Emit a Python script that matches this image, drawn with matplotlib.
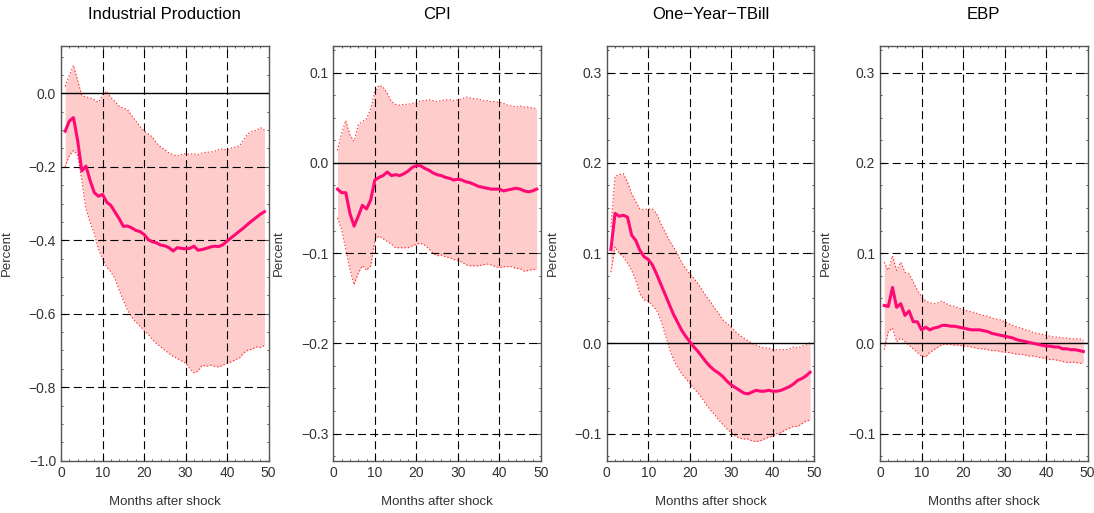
import numpy as np
import matplotlib
matplotlib.use("Agg")
import matplotlib.pyplot as plt
from matplotlib.ticker import MultipleLocator, FuncFormatter

plt.rcParams['font.family'] = ['Liberation Sans', 'DejaVu Sans']
plt.rcParams['lines.scale_dashes'] = False

months = list(range(1, 50))

# Industrial Production
ip_mid = [-0.103, -0.075, -0.066, -0.128, -0.211, -0.198, -0.237, -0.27, -0.28, -0.275,
          -0.296, -0.305, -0.323, -0.341, -0.362, -0.361, -0.366, -0.373, -0.376, -0.384,
          -0.398, -0.404, -0.407, -0.413, -0.415, -0.42, -0.429, -0.42, -0.422, -0.423,
          -0.422, -0.416, -0.427, -0.425, -0.422, -0.418, -0.416, -0.417, -0.412, -0.402,
          -0.393, -0.384, -0.375, -0.366, -0.356, -0.347, -0.338, -0.329, -0.322]
ip_hi = [0.019, 0.049, 0.076, 0.035, -0.005, -0.01, -0.012, -0.017, -0.024, -0.005,
         0.006, -0.012, -0.022, -0.035, -0.04, -0.044, -0.06, -0.075, -0.09, -0.103,
         -0.11, -0.119, -0.135, -0.146, -0.153, -0.162, -0.167, -0.171, -0.166, -0.164,
         -0.166, -0.164, -0.167, -0.162, -0.16, -0.16, -0.157, -0.153, -0.151, -0.155,
         -0.149, -0.146, -0.143, -0.126, -0.11, -0.103, -0.101, -0.093, -0.099]
ip_lo = [-0.2, -0.169, -0.155, -0.169, -0.237, -0.314, -0.35, -0.382, -0.423, -0.45,
         -0.473, -0.486, -0.504, -0.536, -0.563, -0.59, -0.609, -0.622, -0.634, -0.645,
         -0.656, -0.67, -0.681, -0.69, -0.699, -0.708, -0.716, -0.722, -0.728, -0.734,
         -0.749, -0.761, -0.756, -0.74, -0.743, -0.74, -0.743, -0.745, -0.74, -0.734,
         -0.731, -0.725, -0.72, -0.707, -0.699, -0.697, -0.69, -0.692, -0.686]

# CPI
cpi_mid = [-0.029, -0.033, -0.033, -0.056, -0.07, -0.059, -0.047, -0.051, -0.041, -0.019,
           -0.016, -0.014, -0.01, -0.014, -0.013, -0.014, -0.012, -0.009, -0.005, -0.003,
           -0.003, -0.006, -0.008, -0.011, -0.013, -0.014, -0.016, -0.017, -0.019, -0.018,
           -0.019, -0.021, -0.022, -0.024, -0.026, -0.027, -0.028, -0.029, -0.029, -0.029,
           -0.031, -0.03, -0.029, -0.028, -0.029, -0.031, -0.032, -0.031, -0.029]
cpi_hi = [0.014, 0.033, 0.047, 0.031, 0.024, 0.042, 0.046, 0.049, 0.06, 0.079,
          0.086, 0.084, 0.077, 0.068, 0.065, 0.064, 0.065, 0.065, 0.066, 0.067,
          0.069, 0.069, 0.07, 0.069, 0.068, 0.069, 0.07, 0.07, 0.069, 0.07,
          0.071, 0.073, 0.072, 0.071, 0.071, 0.069, 0.069, 0.068, 0.068, 0.067,
          0.066, 0.064, 0.063, 0.062, 0.063, 0.062, 0.062, 0.061, 0.06]
cpi_lo = [-0.061, -0.074, -0.096, -0.118, -0.135, -0.122, -0.114, -0.119, -0.114, -0.085,
          -0.081, -0.084, -0.087, -0.09, -0.094, -0.094, -0.094, -0.094, -0.092, -0.09,
          -0.089, -0.091, -0.095, -0.1, -0.103, -0.102, -0.104, -0.105, -0.107, -0.108,
          -0.11, -0.113, -0.114, -0.114, -0.114, -0.113, -0.112, -0.113, -0.115, -0.116,
          -0.115, -0.115, -0.115, -0.117, -0.117, -0.12, -0.119, -0.118, -0.118]

# One-Year-TBill
tb_mid = [0.104, 0.144, 0.141, 0.142, 0.14, 0.12, 0.114, 0.103, 0.096, 0.093,
          0.087, 0.077, 0.066, 0.055, 0.044, 0.033, 0.024, 0.015, 0.008, 0.002,
          -0.004, -0.009, -0.015, -0.021, -0.026, -0.03, -0.033, -0.037, -0.042, -0.046,
          -0.049, -0.052, -0.055, -0.056, -0.054, -0.052, -0.053, -0.053, -0.052, -0.053,
          -0.053, -0.052, -0.05, -0.048, -0.045, -0.041, -0.039, -0.036, -0.032]
tb_hi = [0.129, 0.185, 0.187, 0.188, 0.179, 0.166, 0.157, 0.149, 0.148, 0.149,
         0.149, 0.144, 0.133, 0.124, 0.115, 0.107, 0.1, 0.09, 0.083, 0.077,
         0.072, 0.066, 0.059, 0.052, 0.046, 0.039, 0.033, 0.026, 0.022, 0.018,
         0.013, 0.009, 0.006, 0.003, 0.0, -0.002, -0.004, -0.005, -0.005, -0.007,
         -0.007, -0.007, -0.007, -0.006, -0.004, -0.005, -0.003, -0.002, 0.001]
tb_lo = [0.079, 0.107, 0.1, 0.096, 0.089, 0.081, 0.07, 0.055, 0.048, 0.047,
         0.042, 0.037, 0.026, 0.011, -0.004, -0.017, -0.026, -0.033, -0.039, -0.044,
         -0.05, -0.055, -0.061, -0.068, -0.074, -0.079, -0.085, -0.09, -0.095, -0.099,
         -0.103, -0.105, -0.106, -0.106, -0.108, -0.109, -0.108, -0.106, -0.104, -0.103,
         -0.1, -0.099, -0.096, -0.094, -0.092, -0.092, -0.089, -0.086, -0.085]

# EBP
ebp_mid = [0.042, 0.041, 0.062, 0.04, 0.044, 0.031, 0.036, 0.024, 0.024, 0.015,
           0.018, 0.015, 0.017, 0.018, 0.02, 0.02, 0.019, 0.019, 0.018, 0.017,
           0.016, 0.015, 0.015, 0.015, 0.014, 0.013, 0.011, 0.01, 0.009, 0.008,
           0.007, 0.006, 0.004, 0.003, 0.002, 0.001, 0.0, -0.001, -0.002, -0.003,
           -0.003, -0.004, -0.004, -0.006, -0.006, -0.007, -0.007, -0.008, -0.009]
ebp_hi = [0.09, 0.081, 0.097, 0.081, 0.09, 0.079, 0.077, 0.068, 0.059, 0.052,
          0.047, 0.045, 0.044, 0.045, 0.047, 0.044, 0.042, 0.041, 0.039, 0.038,
          0.036, 0.035, 0.034, 0.032, 0.031, 0.03, 0.028, 0.027, 0.026, 0.024,
          0.022, 0.02, 0.018, 0.017, 0.015, 0.014, 0.012, 0.011, 0.01, 0.009,
          0.008, 0.007, 0.007, 0.006, 0.006, 0.005, 0.005, 0.005, 0.004]
ebp_lo = [-0.007, 0.013, 0.017, 0.002, 0.006, 0.002, -0.002, -0.006, -0.01, -0.014,
          -0.015, -0.01, -0.007, -0.004, -0.001, -0.001, -0.001, -0.002, -0.002, -0.003,
          -0.003, -0.004, -0.005, -0.006, -0.006, -0.007, -0.008, -0.008, -0.009, -0.01,
          -0.01, -0.011, -0.012, -0.012, -0.013, -0.014, -0.014, -0.015, -0.016, -0.017,
          -0.018, -0.018, -0.019, -0.02, -0.021, -0.021, -0.021, -0.022, -0.022]

titles = ['Industrial Production', 'CPI', 'One\u2212Year\u2212TBill', 'EBP']
mids = [ip_mid, cpi_mid, tb_mid, ebp_mid]
his = [ip_hi, cpi_hi, tb_hi, ebp_hi]
los = [ip_lo, cpi_lo, tb_lo, ebp_lo]
ylims = [(-1.0, 0.13), (-0.33, 0.13), (-0.13, 0.33), (-0.13, 0.33)]
ysteps = [0.2, 0.1, 0.1, 0.1]
lefts = [0.0558, 0.3047, 0.5546, 0.8044]

line_col = '#ff0a74'
fill_col = '#ffcccc'
edge_col = '#ff3030'
dash = (5.8, 3.0)

def fmt(v, pos):
    return ('%.1f' % v).replace('-', '\u2212')

fig = plt.figure(figsize=(10.94, 5.13), dpi=100)

for i in range(4):
    ax = fig.add_axes([lefts[i], 0.102, 0.1897, 0.809])
    ax.fill_between(months, los[i], his[i], color=fill_col, lw=0, zorder=1)
    ax.plot(months, his[i], color=edge_col, lw=0.8, ls=(0, (1, 1.5)), zorder=2)
    ax.plot(months, los[i], color=edge_col, lw=0.8, ls=(0, (1, 1.5)), zorder=2)

    ax.set_xlim(0, 50)
    ax.set_ylim(*ylims[i])
    ax.xaxis.set_major_locator(MultipleLocator(10))
    ax.xaxis.set_minor_locator(MultipleLocator(2))
    ax.yaxis.set_major_locator(MultipleLocator(ysteps[i]))
    ax.yaxis.set_minor_locator(MultipleLocator(ysteps[i] / 4))
    ax.yaxis.set_major_formatter(FuncFormatter(fmt))

    # dashed grid at major ticks, solid at zero
    for xv in [10, 20, 30, 40]:
        ax.axvline(xv, color='black', lw=0.8, dashes=dash, zorder=3)
    yt = np.arange(-1.0, 0.31, ysteps[i])
    for yv in yt:
        yv = round(yv, 2)
        if yv <= ylims[i][0] + 1e-9 or yv >= ylims[i][1]:
            continue
        if abs(yv) < 1e-9:
            ax.axhline(0, color='black', lw=1.0, zorder=3)
        else:
            ax.axhline(yv, color='black', lw=0.8, dashes=dash, zorder=3)

    ax.plot(months, mids[i], color=line_col, lw=2.2, zorder=4)

    ax.tick_params(which='both', direction='in', top=True, right=True,
                   colors='#555555', labelcolor='#333333', labelsize=10)
    ax.tick_params(which='major', length=3.6, width=0.8)
    ax.tick_params(which='minor', length=1.7, width=0.7)
    for sp in ax.spines.values():
        sp.set_color('#555555')
        sp.set_linewidth(1.0)

    ax.set_title(titles[i], fontsize=12, pad=19, color='black')
    ax.set_xlabel('Months after shock', fontsize=9.5, labelpad=12, color='#333333')
    ax.set_ylabel('Percent', fontsize=9.5, color='#333333')
    ax.yaxis.set_label_coords(-0.232, 0.5)

fig.savefig('out.png', dpi=100)
